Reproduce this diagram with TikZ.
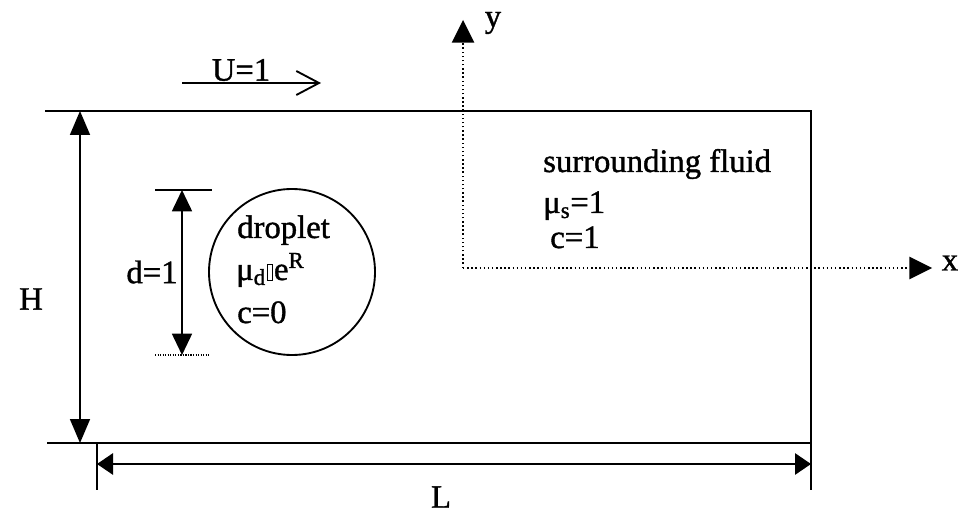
\documentclass[tikz,border=0pt]{standalone}
\usepackage{fontspec}
\setmainfont{Liberation Serif}[FakeBold=1.2]
\usetikzlibrary{arrows.meta}
\begin{document}
\begin{tikzpicture}[x=0.75pt,y=-0.75pt,
  lbl/.style={font=\fontsize{24.5}{28}\selectfont, inner sep=0pt, anchor=base west},
  wall/.style={line width=1.7pt},
  dim/.style={line width=1.3pt},
  axis/.style={line width=1.1pt, dotted},
  thin/.style={line width=0.9pt}]
\useasboundingbox[fill=white] (0,0) rectangle (959,516);
% corners
\coordinate (tl) at (97,111);
\coordinate (tr) at (811,111);
\coordinate (bl) at (97,443);
\coordinate (br) at (811,443);
% domain
\draw[wall] (45,111) -- (tl) -- (tr) -- (br) -- (bl) -- (47,443);
\draw[thin] (bl) -- (97,490);
\draw[thin] (br) -- (811,490);
% H dimension
\coordinate (hT) at (80,111);
\coordinate (hB) at (80,443);
\draw[dim, {Triangle[length=18pt,width=15pt]}-{Triangle[length=18pt,width=15pt]}] (hT) -- (hB);
\node[lbl, anchor=center] (H) at (31,299) {H};
% L dimension
\coordinate (lL) at (97,464);
\coordinate (lR) at (811,464);
\draw[dim, {Triangle[length=12pt,width=16pt]}-{Triangle[length=12pt,width=16pt]}] (lL) -- (lR);
\node[lbl, anchor=center] (L) at (441,497) {L};
% U=1
\coordinate (uA) at (182,83);
\coordinate (uB) at (321,83);
\draw[dim, -{Straight Barb[length=17pt,width=18pt,line width=1.4pt]}] (uA) -- (uB);
\node[lbl, anchor=center] (U) at (241,70) {U=1};
% droplet
\node[draw, line width=1.4pt, circle, minimum size=166*0.75pt, inner sep=0pt] (drop) at (292,272) {};
\node[lbl] (t1) at (237,238) {droplet};
\node[lbl] (t2) at (236,280) {μ\textsubscript{d}\hspace{1pt}\tikz[baseline=0pt]\draw[line width=0.6pt] (0,0) rectangle (3.5pt,12pt);\hspace{1pt}e\textsuperscript{R}};
\node[lbl] (t3) at (237,323) {c=0};
% d=1 dimension
\draw[thin] (155,190) -- (212,190);
\draw[thin, densely dotted] (155,355) -- (210,355);
\coordinate (dT) at (182,190);
\coordinate (dB) at (182,355);
\draw[dim, {Triangle[length=16pt,width=15pt]}-{Triangle[length=16pt,width=15pt]}] (dT) -- (dB);
\node[lbl, anchor=center] (d) at (152,272) {d=1};
% axes
\coordinate (O) at (463,268);
\coordinate (yE) at (463,20);
\coordinate (xE) at (932,268);
\draw[axis, -{Triangle[length=17pt,width=17pt,line width=0pt]}] (O) -- (yE);
\draw[axis, -{Triangle[length=17pt,width=17pt,line width=0pt]}] (O) -- (xE);
\node[lbl, anchor=center] (y) at (493,23) {y};
\node[lbl, anchor=center] (x) at (950,263) {x};
% surrounding fluid
\node[lbl] (s1) at (543,172) {surrounding fluid};
\node[lbl] (s2) at (543,213) {μ\textsubscript{s}=1};
\node[lbl] (s3) at (550,248) {c=1};
\end{tikzpicture}
\end{document}
